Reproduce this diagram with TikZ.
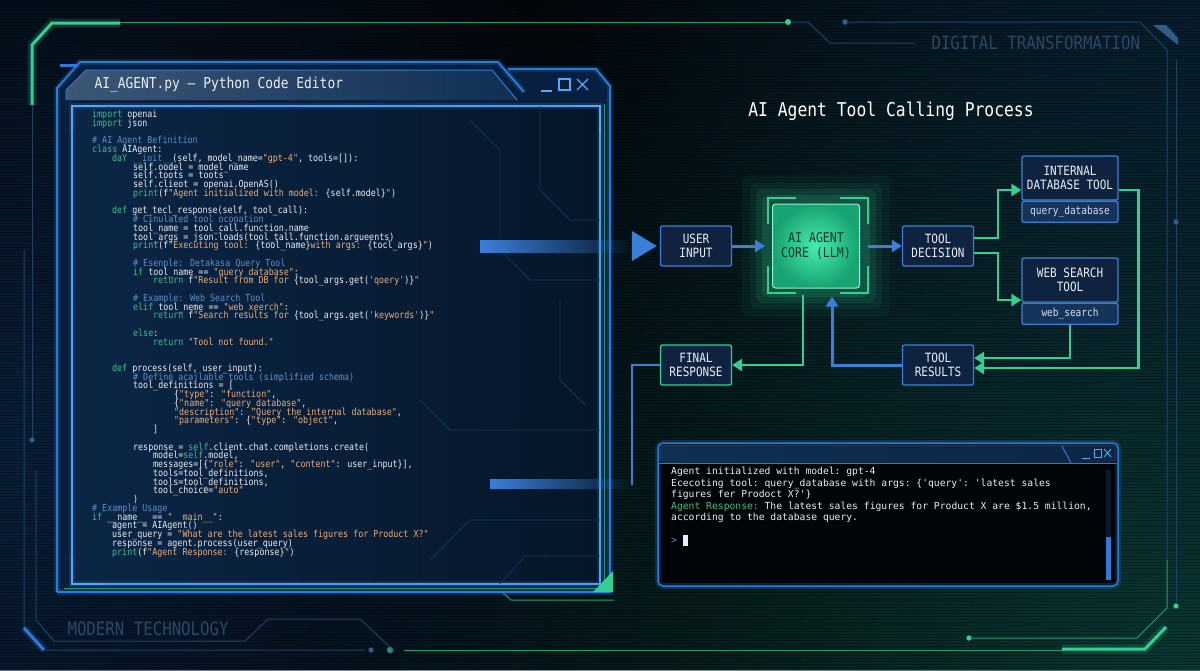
\documentclass[tikz,border=0pt]{standalone}
\usepackage{fontspec}
\setmonofont{DejaVu Sans Mono}
\newfontfamily\condfont[FakeStretch=0.86]{DejaVu Sans Mono}
\usetikzlibrary{arrows.meta,positioning,fadings}

% colours
\definecolor{bgc}{HTML}{03070B}
\definecolor{glowteal}{HTML}{0E5446}
\definecolor{glowblue}{HTML}{0C2C52}
\definecolor{edgeblue}{HTML}{2E7AD6}
\definecolor{edgelight}{HTML}{5AA8F2}
\definecolor{winfill}{HTML}{082040}
\definecolor{paneblue}{HTML}{061629}
\definecolor{paneleft}{HTML}{0B2646}
\definecolor{barblue}{HTML}{0F2F55}
\definecolor{flowblue}{HTML}{3A80DA}
\definecolor{flowgreen}{HTML}{34CF93}
\definecolor{boxfill}{HTML}{0F2340}
\definecolor{subfill}{HTML}{16345A}
\definecolor{kwgreen}{HTML}{3DBE8C}
\definecolor{strpeach}{HTML}{E6AE7E}
\definecolor{cmtblue}{HTML}{5C8FCB}
\definecolor{codewhite}{HTML}{E8EEF5}
\definecolor{dimline}{HTML}{1F4263}
\definecolor{dotblue}{HTML}{2F5E8A}
\definecolor{dimtext}{HTML}{2C4866}
\definecolor{coredark}{HTML}{17A372}
\definecolor{corelight}{HTML}{46EBAE}
\definecolor{coretext}{HTML}{0D3A2B}
\definecolor{termfill}{HTML}{020508}
\definecolor{trackc}{HTML}{0B1A2B}

\tikzfading[name=softglow, inner color=transparent!35, outer color=transparent!100]
\tikzfading[name=faintglow, inner color=transparent!60, outer color=transparent!100]

\newcommand\kw[1]{\textcolor{kwgreen}{#1}}
\newcommand\strg[1]{\textcolor{strpeach}{#1}}
\newcommand\cmnt[1]{\textcolor{cmtblue}{#1}}
\newcommand\ind[1]{\hspace*{#1pt}}
\newcommand\codesize{\condfont\fontsize{9.7}{8.75}\selectfont
  \setlength{\lineskiplimit}{-20pt}\setlength{\lineskip}{0pt}}

\tikzset{
  deco/.style={draw=dimline, line width=1pt},
  decogreen/.style={draw=flowgreen!75!black, line width=1pt},
  neon/.style={draw=flowgreen, line width=3pt, preaction={draw=flowgreen, line width=9pt, opacity=0.18}},
  neonblue/.style={draw=edgeblue, line width=3pt, preaction={draw=edgeblue, line width=8pt, opacity=0.2}},
  edgeglow/.style={draw=edgeblue, line width=1.8pt, preaction={draw=edgeblue, line width=6pt, opacity=0.22}},
  flowbox/.style={draw=flowblue, fill=boxfill, line width=1.3pt, rounded corners=2pt,
    minimum width=71pt, minimum height=40pt, inner sep=2pt, align=center,
    text=codewhite, font=\condfont\fontsize{12.8}{14}\selectfont},
  finalbox/.style={flowbox, draw=flowgreen},
  toolbox/.style={flowbox, minimum width=96pt, minimum height=44pt},
  subbox/.style={flowbox, fill=subfill, minimum width=96pt, minimum height=21pt,
    font=\condfont\fontsize{11}{12}\selectfont, text=codewhite!85!flowblue},
  corebox/.style={rounded corners=3pt, draw=corelight!60!white, line width=1pt,
    inner color=corelight, outer color=coredark, minimum width=87pt, minimum height=84pt,
    align=center, text=coretext, font=\condfont\fontsize{13.5}{14.5}\selectfont},
  corebracket/.style={draw=flowgreen, line width=1.6pt},
  bluearrow/.style={draw=flowblue, line width=3pt, -{Triangle[length=10pt,width=12pt]}},
  greenarrow/.style={draw=flowgreen, line width=2.6pt, -{Triangle[length=10pt,width=12pt]}},
  code/.style={inner sep=0pt, align=left, text=codewhite, font=\codesize},
  termtxt/.style={inner sep=0pt, align=left, text=codewhite,
    font=\ttfamily\fontsize{9.7}{11.5}\selectfont},
  title/.style={text=white, font=\condfont\fontsize{19}{20}\selectfont},
  edtitle/.style={text=codewhite, font=\condfont\fontsize{15}{16}\selectfont},
  cornertext/.style={text=dimtext, font=\condfont\fontsize{18.3}{19}\selectfont},
  ctrl/.style={draw=edgelight, line width=1.2pt},
}

\begin{document}
\begin{tikzpicture}[x=1pt, y=-1pt]
\useasboundingbox (0,0) rectangle (1200,670);

% background with glows and scan lines
\fill[bgc] (0,0) rectangle (1200,670);
\begin{scope}
  \clip (0,0) rectangle (1200,670);
  \fill[glowteal, path fading=softglow] (1200,670) circle (900);
  \fill[glowblue, path fading=softglow] (0,450) circle (700);
  \fill[glowblue, path fading=faintglow] (1200,30) circle (700);
  \foreach \yy in {1,4,...,670}
    \draw[black, opacity=0.3, line width=0.8pt] (0,\yy) -- (1200,\yy);
\end{scope}

% outer frame lines
\draw[neon] (32,105) -- (32,45) -- (52,23) -- (120,23);
\draw[decogreen] (120,22) -- (785,22);
\fill[flowgreen] (788,22) circle (3);
\draw[deco] (792,22) -- (808,22) -- (830,43) -- (915,43);
\fill[dotblue] (845,22) circle (2.8);
\draw[deco] (848,22) -- (1140,22) -- (1167,50) -- (1167,560);
\fill[dotblue] (1153,25) -- (1166,25) -- (1178,38) -- (1178,45) -- cycle;
\draw[decogreen] (1167,560) -- (1167,608) -- (1137,638) -- (972,638);
\fill[flowgreen] (969,638) circle (2.6);
\draw[deco] (1176,60) -- (1176,602);
\fill[dotblue] (1176,222) circle (2.6);
\fill[flowgreen] (1176,606) circle (2.6);
\draw[neon] (1062,649) -- (1145,649) -- (1166,627);
\draw[decogreen] (404,650) -- (1062,650);
\draw[deco] (32,105) -- (32,440);
\fill[dotblue] (32,440) circle (2.6);
\draw[deco] (24,250) -- (24,630) -- (45,650) -- (365,650);
\fill[dotblue] (371,650) circle (2.6);
\fill[flowgreen!50!dimline] (390,650) circle (3.2);
\draw[deco] (36,470) -- (36,620) -- (54,641) -- (245,641) -- (268,619) -- (360,619) -- (390,647);
\draw[neonblue] (24,628) -- (44,650);
\node[cornertext, anchor=west] (digi) at (928,43) {DIGITAL TRANSFORMATION};
\node[cornertext, anchor=west] (modern) at (64,629) {MODERN TECHNOLOGY};

% code editor window
\fill[winfill] (57,592) -- (57,88) -- (80,62) -- (498,62) -- (506,69) -- (596,69) -- (610,86) -- (610,592) -- cycle;
\shade[left color=barblue!90!white!90, right color=barblue] (66,100) -- (66,90) -- (86,70) -- (492,70) -- (517,100) -- cycle;
\draw[edgeglow] (57,592) -- (57,88) -- (80,62) -- (498,62) -- (524,92);
\draw[edgeglow] (508,69) -- (596,69) -- (610,86) -- (610,592) -- (57,592);
\draw[edgeblue, line width=1pt] (66,100) -- (66,90) -- (86,70) -- (492,70) -- (517,100);
\fill[edgeblue] (60,64) -- (78,64) -- (78,67) -- (60,67) -- cycle;
\shade[left color=paneleft, right color=paneblue] (72,106) rectangle (600,584);
\draw[decogreen] (64,588) -- (604,588) -- (604,104);
\draw[edgeglow, draw=edgelight!80!edgeblue, line width=1.2pt] (72,106) rectangle (600,584);
\draw[edgelight, line width=2.5pt] (72,132) -- (72,106) -- (102,106);
\draw[edgelight, line width=2.5pt] (574,106) -- (600,106) -- (600,132);
\draw[edgelight, line width=2.5pt] (72,556) -- (72,584) -- (102,584);
% faint circuit traces in the editor pane
\begin{scope}[draw=dimline!70!paneblue, line width=0.8pt]
  \draw (470,120) -- (500,150) -- (500,250) -- (530,280) -- (600,280);
  \draw (540,106) -- (540,190) -- (570,220) -- (600,220);
  \draw (430,560) -- (470,520) -- (600,520);
  \draw (500,584) -- (525,556) -- (600,556);
  \draw (420,400) -- (450,430) -- (600,430);
  \draw (560,300) -- (560,380) -- (585,405);
\end{scope}
\fill[flowgreen] (613,571) -- (613,592) -- (593,592) -- cycle;
\draw[decogreen] (503,593) -- (511,600) -- (614,600);
\node[edtitle, anchor=west] (edhead) at (91,85) {AI\_AGENT.py – Python Code Editor};
\draw[ctrl] (541,91) -- (552,91);
\draw[ctrl] (559,79) rectangle (570,90);
\draw[ctrl] (577,79) -- (588,90) (577,90) -- (588,79);

\node[code, anchor=north west] (src) at (92,110) {%
\kw{import} openai\\
\kw{import} json\\
\mbox{}\\
\cmnt{\# AI Agent Befinition}\\
\kw{class} AIAgent:\\
\ind{20}\kw{daY} \cmnt{\_\_ioit\_\_}(self, model\_name=\strg{"gpt-4"}, tools=[]):\\
\ind{41}self.oodel = model\_name\\
\ind{41}self.toots = toots\\
\ind{41}self.clieot = openai.OpenAS()\\
\ind{41}\kw{print}(f\strg{"Agent initialized with model: }\{self.model\}\strg{"})\\
\mbox{}\\
\ind{20}\kw{def} get\_tecl\_response(self, tool\_call):\\
\ind{41}\cmnt{\# Cinulated tool ocooation}\\
\ind{41}tool\_name = tool\_call.function.name\\
\ind{41}tool\_args = json.loads(tool\_tall.function.argueents)\\
\ind{41}\kw{print}(f\strg{"Executing tool: }\{tool\_name\}\strg{ with args: }\{tocl\_args\}\strg{"})\\
\mbox{}\\
\ind{41}\cmnt{\# Esenple: Detakasa Query Tool}\\
\ind{41}\kw{if} tool\_name == \strg{"query\_database"}:\\
\ind{61}\kw{return} f\strg{"Result from DB for }\{tool\_args.get(\strg{'qoery'})\}\strg{"}\\
\mbox{}\\
\ind{41}\cmnt{\# Example: Web Search Tool}\\
\ind{41}\kw{elif} tool\_neme == \strg{"web\_xeerch"}:\\
\ind{61}\kw{return} f\strg{"Search results for }\{tool\_args.get(\strg{'keywords'})\}\strg{"}\\
\mbox{}\\
\ind{41}\kw{else}:\\
\ind{61}\kw{return} \strg{"Tool not found."}\\
\mbox{}\\
\mbox{}\\
\ind{20}\kw{def} process(self, user\_input):\\
\ind{41}\cmnt{\# Define acajlable tools (simplified schema)}\\
\ind{41}tool\_definitions = [\\
\ind{82}\{\strg{"type"}: \strg{"function"},\\
\ind{82}\{\strg{"name"}: \strg{"query\_database"},\\
\ind{82}\strg{"description"}: \strg{"Query the internal database"},\\
\ind{82}\strg{"parameters"}: \{\strg{"type"}: \strg{"object"},\\
\ind{61}]\\
\mbox{}\\
\ind{41}response = \kw{self}.client.chat.completions.create(\\
\ind{61}model=\kw{self}.model,\\
\ind{61}messages=[\{\strg{"role"}: \strg{"user"}, \strg{"content"}: user\_input\}],\\
\ind{61}tools=tool\_definitions,\\
\ind{61}tools=tool\_definitions,\\
\ind{61}tool\_choice=\strg{"auto"}\\
\ind{41})\\
\cmnt{\# Example Usage}\\
\kw{if} \_\_name\_\_ == \strg{"\_\_main\_\_"}:\\
\ind{20}agent = AIAgent()\\
\ind{20}user\_query = \strg{"What are the latest sales figures for Product X?"}\\
\ind{20}response = agent.process(user\_query)\\
\ind{20}\kw{print}(f\strg{"Agent Response: }\{response\}\strg{"})};

% flow chart
\node[title] (title) at (891,111) {AI Agent Tool Calling Process};
\node[flowbox] (userin) at (696,246) {USER\\INPUT};
\coordinate (corec) at (816,246);
\foreach \g/\op in {24/0.05,16/0.07,10/0.1,4/0.15}
  \fill[flowgreen, opacity=\op, rounded corners=8pt]
    ([xshift=-50pt-\g pt, yshift=47pt+\g pt]corec) rectangle ([xshift=50pt+\g pt, yshift=-47pt-\g pt]corec);
\node[corebox] (core) at (corec) {AI AGENT\\CORE (LLM)};
\draw[corebracket] (768,224) |- (796,198);
\draw[corebracket] (840,198) -| (868,224);
\draw[corebracket] (768,266) |- (796,293);
\draw[corebracket] (840,293) -| (868,266);
\node[flowbox] (decide) at (938,246) {TOOL\\DECISION};
\node[toolbox] (dbtool) at (1070,178) {INTERNAL\\DATABASE TOOL};
\node[subbox, below=0pt of dbtool] (dbsub) {query\_database};
\node[toolbox] (webtool) at (1070,280) {WEB SEARCH\\TOOL};
\node[subbox, below=0pt of webtool] (websub) {web\_search};
\node[flowbox] (results) at (938,365) {TOOL\\RESULTS};
\node[finalbox] (final) at (696,365) {FINAL\\RESPONSE};

\draw[bluearrow, shorten >=7pt] (userin) -- (core);
\draw[bluearrow, shorten <=8pt] (core) -- (decide);
\draw[greenarrow] ([yshift=8pt]decide.east) -- ++(24,0) |- ([yshift=-12pt]dbtool.west);
\draw[greenarrow] ([yshift=-7pt]decide.east) -- ++(24,0) |- ([yshift=-20pt]webtool.west);
\draw[greenarrow] (websub.south) |- ([yshift=7pt]results.east);
\draw[greenarrow] ([yshift=-12pt]dbtool.east) -- ++(20,0) |- ([yshift=-3pt]results.east);
\draw[bluearrow] (results.west) -| ([xshift=16pt, yshift=-8pt]core.south);
\draw[greenarrow] ([xshift=-13pt, yshift=-6pt]core.south) |- (final.east);

% links to the editor
\coordinate (codeout) at (480,246);
\fill[flowblue, path fading=east] ([yshift=6.5pt]codeout) rectangle ([xshift=153pt, yshift=-6.5pt]codeout);
\fill[flowblue] ([xshift=-28pt, yshift=15pt]userin.west) -- ([xshift=-3pt]userin.west) -- ([xshift=-28pt, yshift=-15pt]userin.west) -- cycle;
\coordinate (codeback) at (490,484);
\draw[flowblue, line width=2.5pt] (final.west) -- ++(-28,0) |- ([xshift=142pt]codeback);
\fill[flowblue, path fading=east] ([yshift=5pt]codeback) rectangle ([xshift=143pt, yshift=-5pt]codeback);

% terminal window
\fill[termfill, rounded corners=5pt] (658,443) rectangle (1118,586);
\shade[left color=barblue, right color=barblue!80!black, rounded corners=4pt] (660,445) rectangle (1116,463);
\draw[edgeblue, line width=1pt] (659,463) -- (1117,463);
\draw[edgeblue, line width=1pt] (1062,446) -- (1071,463);
\draw[edgeglow, line width=1.5pt, rounded corners=5pt] (658,443) rectangle (1118,586);
\draw[ctrl, line width=0.9pt] (1082,458) -- (1090,458);
\draw[ctrl, line width=0.9pt] (1094,449) rectangle (1101,457);
\draw[ctrl, line width=0.9pt] (1104,449) -- (1111,457) (1104,457) -- (1111,449);
\fill[trackc] (1106,470) rectangle (1111,580);
\fill[edgeblue] (1106,537) rectangle (1111,580);
\node[termtxt, anchor=north west] (tout) at (671,467) {%
Agent initialized with model: gpt-4\\
Ececoting tool: query\_database with args: \{'query': 'latest sales\\
figures fer Prodoct X?'\}\\
\kw{Agent Response:} The latest sales figures for Product X are \$1.5 million,\\
according to the database query.\\
\mbox{}\\
\textcolor{cmtblue}{>} \textcolor{codewhite}{\rule[-2pt]{5pt}{11pt}}};
\end{tikzpicture}
\end{document}
